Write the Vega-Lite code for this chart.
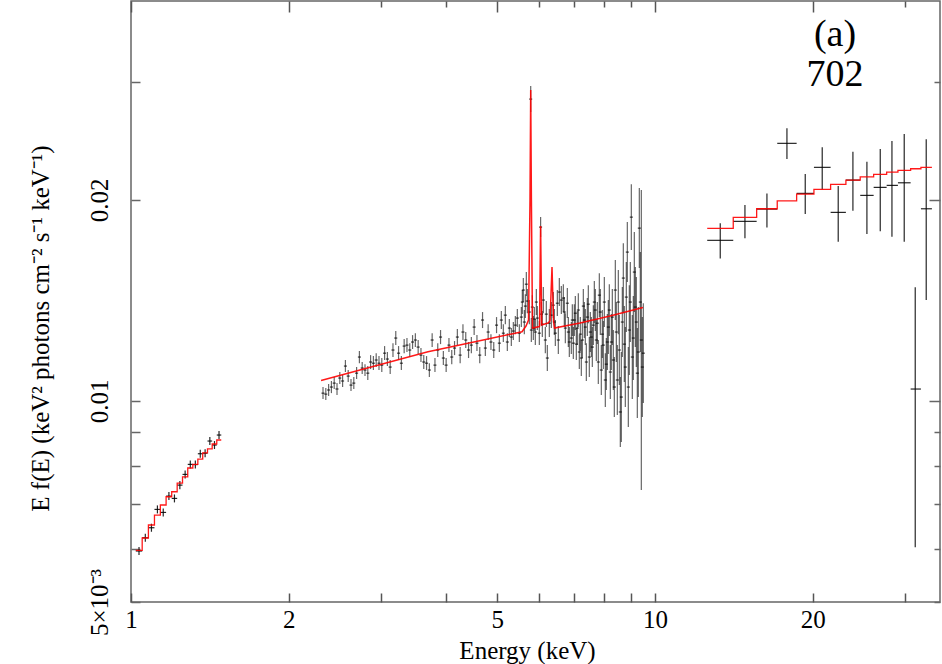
{
  "$schema": "https://vega.github.io/schema/vega-lite/v6.json",
  "width": 809,
  "height": 601,
  "autosize": {"type": "none"},
  "padding": {"left": 131, "top": 1, "right": 2, "bottom": 62},
  "config": {"view": {"stroke": "#666", "strokeWidth": 1.5}, "font": "Liberation Serif"},
  "datasets": {
    "bins": [
      {"e": 1.0358, "el": 1.0213, "eh": 1.0504, "f": 0.005961, "lo": 0.005879, "hi": 0.006044},
      {"e": 1.0649, "el": 1.0504, "eh": 1.0795, "f": 0.00624, "lo": 0.006155, "hi": 0.006327},
      {"e": 1.094, "el": 1.0795, "eh": 1.1086, "f": 0.006459, "lo": 0.00637, "hi": 0.006549},
      {"e": 1.1231, "el": 1.1086, "eh": 1.1377, "f": 0.00688, "lo": 0.006786, "hi": 0.006976},
      {"e": 1.1522, "el": 1.1377, "eh": 1.1668, "f": 0.006809, "lo": 0.006716, "hi": 0.006904},
      {"e": 1.1813, "el": 1.1668, "eh": 1.1959, "f": 0.007203, "lo": 0.007104, "hi": 0.007303},
      {"e": 1.2104, "el": 1.1959, "eh": 1.225, "f": 0.007146, "lo": 0.007048, "hi": 0.007245},
      {"e": 1.2395, "el": 1.225, "eh": 1.2541, "f": 0.007481, "lo": 0.007378, "hi": 0.007585},
      {"e": 1.2686, "el": 1.2541, "eh": 1.2832, "f": 0.007762, "lo": 0.007656, "hi": 0.00787},
      {"e": 1.2977, "el": 1.2832, "eh": 1.3123, "f": 0.008035, "lo": 0.007925, "hi": 0.008147},
      {"e": 1.3268, "el": 1.3123, "eh": 1.3414, "f": 0.00803, "lo": 0.00792, "hi": 0.008142},
      {"e": 1.3559, "el": 1.3414, "eh": 1.3705, "f": 0.008336, "lo": 0.008222, "hi": 0.008452},
      {"e": 1.385, "el": 1.3705, "eh": 1.3996, "f": 0.00835, "lo": 0.008236, "hi": 0.008466},
      {"e": 1.4141, "el": 1.3996, "eh": 1.4287, "f": 0.008709, "lo": 0.00859, "hi": 0.00883},
      {"e": 1.4432, "el": 1.4287, "eh": 1.4578, "f": 0.00859, "lo": 0.008472, "hi": 0.008709},
      {"e": 1.4723, "el": 1.4578, "eh": 1.4869, "f": 0.008891, "lo": 0.008769, "hi": 0.009015},
      {"e": 13.324, "el": 12.583, "eh": 14.108, "f": 0.017396, "lo": 0.016347, "hi": 0.018444},
      {"e": 14.852, "el": 14.108, "eh": 15.636, "f": 0.018572, "lo": 0.017516, "hi": 0.019645},
      {"e": 16.359, "el": 15.636, "eh": 17.117, "f": 0.019375, "lo": 0.018191, "hi": 0.020453},
      {"e": 17.862, "el": 17.117, "eh": 18.64, "f": 0.024303, "lo": 0.023023, "hi": 0.025591},
      {"e": 19.358, "el": 18.64, "eh": 20.112, "f": 0.020453, "lo": 0.019045, "hi": 0.021863},
      {"e": 20.858, "el": 20.112, "eh": 21.642, "f": 0.022373, "lo": 0.020737, "hi": 0.02397},
      {"e": 22.377, "el": 21.642, "eh": 23.146, "f": 0.019156, "lo": 0.017312, "hi": 0.020975},
      {"e": 23.87, "el": 23.146, "eh": 24.649, "f": 0.021413, "lo": 0.019262, "hi": 0.02361},
      {"e": 25.385, "el": 24.649, "eh": 26.147, "f": 0.020312, "lo": 0.017778, "hi": 0.02281},
      {"e": 26.917, "el": 26.147, "eh": 27.685, "f": 0.020881, "lo": 0.017944, "hi": 0.02383},
      {"e": 28.337, "el": 27.685, "eh": 29.093, "f": 0.021025, "lo": 0.017613, "hi": 0.024496},
      {"e": 29.908, "el": 29.093, "eh": 30.762, "f": 0.021214, "lo": 0.017312, "hi": 0.025094},
      {"e": 31.39, "el": 30.762, "eh": 32.185, "f": 0.010419, "lo": 0.006037, "hi": 0.014795},
      {"e": 32.943, "el": 32.185, "eh": 33.778, "f": 0.019396, "lo": 0.014158, "hi": 0.02464}
    ],
    "mid": [
      {"e": 2.3253, "f": 0.010273, "lo": 0.010066, "hi": 0.010491},
      {"e": 2.3541, "f": 0.010238, "lo": 0.010032, "hi": 0.010455},
      {"e": 2.3832, "f": 0.010384, "lo": 0.010169, "hi": 0.010598},
      {"e": 2.4127, "f": 0.010491, "lo": 0.010273, "hi": 0.010711},
      {"e": 2.4426, "f": 0.010634, "lo": 0.01042, "hi": 0.010858},
      {"e": 2.4728, "f": 0.01042, "lo": 0.010204, "hi": 0.010634},
      {"e": 2.5034, "f": 0.010821, "lo": 0.010598, "hi": 0.011048},
      {"e": 2.5344, "f": 0.010711, "lo": 0.010491, "hi": 0.010932},
      {"e": 2.5658, "f": 0.011277, "lo": 0.011048, "hi": 0.011515},
      {"e": 2.5975, "f": 0.010895, "lo": 0.010674, "hi": 0.011124},
      {"e": 2.6297, "f": 0.010562, "lo": 0.010349, "hi": 0.010785},
      {"e": 2.6622, "f": 0.010634, "lo": 0.01042, "hi": 0.010858},
      {"e": 2.6952, "f": 0.011006, "lo": 0.010785, "hi": 0.011239},
      {"e": 2.7285, "f": 0.011634, "lo": 0.011391, "hi": 0.011878},
      {"e": 2.7623, "f": 0.011201, "lo": 0.010969, "hi": 0.011436},
      {"e": 2.7965, "f": 0.011124, "lo": 0.010895, "hi": 0.011353},
      {"e": 2.8311, "f": 0.011006, "lo": 0.010748, "hi": 0.011277},
      {"e": 2.8661, "f": 0.011436, "lo": 0.011162, "hi": 0.011712},
      {"e": 2.9016, "f": 0.011391, "lo": 0.011124, "hi": 0.011673},
      {"e": 2.9375, "f": 0.011515, "lo": 0.011239, "hi": 0.011791},
      {"e": 2.9739, "f": 0.011391, "lo": 0.011124, "hi": 0.011673},
      {"e": 3.0107, "f": 0.011315, "lo": 0.011048, "hi": 0.011594},
      {"e": 3.0479, "f": 0.011791, "lo": 0.011515, "hi": 0.012082},
      {"e": 3.0857, "f": 0.011554, "lo": 0.011277, "hi": 0.011837},
      {"e": 3.1239, "f": 0.011239, "lo": 0.010969, "hi": 0.011515},
      {"e": 3.1623, "f": 0.011919, "lo": 0.011634, "hi": 0.012205},
      {"e": 3.2014, "f": 0.012421, "lo": 0.012123, "hi": 0.012725},
      {"e": 3.241, "f": 0.011791, "lo": 0.011515, "hi": 0.012082},
      {"e": 3.2811, "f": 0.011391, "lo": 0.011124, "hi": 0.011673},
      {"e": 3.3217, "f": 0.012082, "lo": 0.011791, "hi": 0.012379},
      {"e": 3.3628, "f": 0.012123, "lo": 0.011837, "hi": 0.012421},
      {"e": 3.4045, "f": 0.011919, "lo": 0.011634, "hi": 0.012205},
      {"e": 3.4466, "f": 0.012252, "lo": 0.01196, "hi": 0.012548},
      {"e": 3.4893, "f": 0.012337, "lo": 0.012041, "hi": 0.012633},
      {"e": 3.5325, "f": 0.012041, "lo": 0.011752, "hi": 0.012337},
      {"e": 3.5762, "f": 0.011712, "lo": 0.011436, "hi": 0.012},
      {"e": 3.6205, "f": 0.011436, "lo": 0.011162, "hi": 0.011712},
      {"e": 3.6653, "f": 0.011391, "lo": 0.011124, "hi": 0.011673},
      {"e": 3.7107, "f": 0.011124, "lo": 0.010858, "hi": 0.011391},
      {"e": 3.7566, "f": 0.012337, "lo": 0.012041, "hi": 0.012633},
      {"e": 3.8031, "f": 0.011315, "lo": 0.011048, "hi": 0.011594},
      {"e": 3.8502, "f": 0.011919, "lo": 0.011634, "hi": 0.012205},
      {"e": 3.8978, "f": 0.012464, "lo": 0.012164, "hi": 0.012769},
      {"e": 3.9461, "f": 0.011594, "lo": 0.011315, "hi": 0.011878},
      {"e": 3.9949, "f": 0.011315, "lo": 0.011048, "hi": 0.011594},
      {"e": 4.0444, "f": 0.012123, "lo": 0.011837, "hi": 0.012421},
      {"e": 4.0944, "f": 0.011634, "lo": 0.011353, "hi": 0.011919},
      {"e": 4.1451, "f": 0.012, "lo": 0.011712, "hi": 0.012294},
      {"e": 4.1964, "f": 0.012464, "lo": 0.012123, "hi": 0.012812},
      {"e": 4.2484, "f": 0.011712, "lo": 0.011391, "hi": 0.012041},
      {"e": 4.301, "f": 0.012681, "lo": 0.012337, "hi": 0.013031},
      {"e": 4.3542, "f": 0.012337, "lo": 0.012, "hi": 0.012681},
      {"e": 4.4081, "f": 0.011919, "lo": 0.011594, "hi": 0.012252},
      {"e": 4.4627, "f": 0.012123, "lo": 0.011791, "hi": 0.012464},
      {"e": 4.5179, "f": 0.0129, "lo": 0.012548, "hi": 0.013262},
      {"e": 4.5738, "f": 0.012205, "lo": 0.011878, "hi": 0.012548},
      {"e": 4.6304, "f": 0.011712, "lo": 0.011391, "hi": 0.012041},
      {"e": 4.6878, "f": 0.013217, "lo": 0.012856, "hi": 0.013586},
      {"e": 4.7458, "f": 0.012, "lo": 0.011673, "hi": 0.012337},
      {"e": 4.8046, "f": 0.012681, "lo": 0.012337, "hi": 0.013031},
      {"e": 4.864, "f": 0.012252, "lo": 0.011919, "hi": 0.01259},
      {"e": 4.9243, "f": 0.011919, "lo": 0.011594, "hi": 0.012252},
      {"e": 4.9853, "f": 0.012987, "lo": 0.012633, "hi": 0.013353},
      {"e": 5.047, "f": 0.012205, "lo": 0.011837, "hi": 0.01259},
      {"e": 5.0913, "f": 0.013217, "lo": 0.012812, "hi": 0.013633},
      {"e": 5.1362, "f": 0.012633, "lo": 0.012252, "hi": 0.013031},
      {"e": 5.1816, "f": 0.013443, "lo": 0.013031, "hi": 0.013868},
      {"e": 5.2273, "f": 0.012252, "lo": 0.011878, "hi": 0.012633},
      {"e": 5.2735, "f": 0.012856, "lo": 0.012464, "hi": 0.013262},
      {"e": 5.32, "f": 0.012464, "lo": 0.012082, "hi": 0.012856},
      {"e": 5.367, "f": 0.012725, "lo": 0.012337, "hi": 0.013126},
      {"e": 5.4143, "f": 0.012987, "lo": 0.01259, "hi": 0.013398},
      {"e": 5.4621, "f": 0.013307, "lo": 0.0129, "hi": 0.013727},
      {"e": 5.5104, "f": 0.012633, "lo": 0.012252, "hi": 0.013031},
      {"e": 5.559, "f": 0.013353, "lo": 0.0129, "hi": 0.013821},
      {"e": 5.5835, "f": 0.014062, "lo": 0.013489, "hi": 0.014656},
      {"e": 5.6081, "f": 0.014656, "lo": 0.014062, "hi": 0.015274},
      {"e": 5.6328, "f": 0.013126, "lo": 0.01259, "hi": 0.01368},
      {"e": 5.6576, "f": 0.013868, "lo": 0.013307, "hi": 0.01445},
      {"e": 5.6825, "f": 0.014957, "lo": 0.014353, "hi": 0.015594},
      {"e": 5.7075, "f": 0.014111, "lo": 0.013534, "hi": 0.014706},
      {"e": 5.7579, "f": 0.013586, "lo": 0.013031, "hi": 0.014159},
      {"e": 5.7927, "f": 0.02831, "lo": 0.027071, "hi": 0.029604},
      {"e": 5.8087, "f": 0.012769, "lo": 0.012252, "hi": 0.013307},
      {"e": 5.8343, "f": 0.013821, "lo": 0.013262, "hi": 0.014402},
      {"e": 5.86, "f": 0.012856, "lo": 0.012337, "hi": 0.013398},
      {"e": 5.8858, "f": 0.013262, "lo": 0.012725, "hi": 0.013821},
      {"e": 5.9117, "f": 0.012681, "lo": 0.012123, "hi": 0.013262},
      {"e": 5.9377, "f": 0.014062, "lo": 0.013443, "hi": 0.014706},
      {"e": 5.9639, "f": 0.013307, "lo": 0.012769, "hi": 0.013868},
      {"e": 6.0166, "f": 0.012633, "lo": 0.012123, "hi": 0.013171},
      {"e": 6.0504, "f": 0.018207, "lo": 0.017591, "hi": 0.018846},
      {"e": 6.0697, "f": 0.013489, "lo": 0.012944, "hi": 0.014062},
      {"e": 6.0961, "f": 0.013031, "lo": 0.012464, "hi": 0.013633},
      {"e": 6.1233, "f": 0.014159, "lo": 0.013534, "hi": 0.014806},
      {"e": 6.1773, "f": 0.012337, "lo": 0.011791, "hi": 0.0129},
      {"e": 6.2042, "f": 0.013489, "lo": 0.0129, "hi": 0.014111},
      {"e": 6.2318, "f": 0.011594, "lo": 0.011086, "hi": 0.012123},
      {"e": 6.2868, "f": 0.013075, "lo": 0.012464, "hi": 0.013727},
      {"e": 6.3423, "f": 0.013443, "lo": 0.012856, "hi": 0.014062},
      {"e": 6.3983, "f": 0.013914, "lo": 0.013307, "hi": 0.014555},
      {"e": 6.4265, "f": 0.013126, "lo": 0.012548, "hi": 0.013727},
      {"e": 6.4548, "f": 0.012633, "lo": 0.012082, "hi": 0.013217},
      {"e": 6.5118, "f": 0.014008, "lo": 0.013398, "hi": 0.014656},
      {"e": 6.5405, "f": 0.012337, "lo": 0.011752, "hi": 0.012944},
      {"e": 6.5693, "f": 0.014555, "lo": 0.013868, "hi": 0.015274},
      {"e": 6.6273, "f": 0.014159, "lo": 0.013489, "hi": 0.014857},
      {"e": 6.6858, "f": 0.014256, "lo": 0.013586, "hi": 0.014957},
      {"e": 6.7152, "f": 0.013586, "lo": 0.0129, "hi": 0.014305},
      {"e": 6.7448, "f": 0.012856, "lo": 0.012205, "hi": 0.013534},
      {"e": 6.8044, "f": 0.014008, "lo": 0.013307, "hi": 0.014756},
      {"e": 6.8343, "f": 0.012681, "lo": 0.012041, "hi": 0.013353},
      {"e": 6.8644, "f": 0.012252, "lo": 0.011634, "hi": 0.0129},
      {"e": 6.925, "f": 0.012421, "lo": 0.011752, "hi": 0.013126},
      {"e": 6.9555, "f": 0.013217, "lo": 0.012506, "hi": 0.013961},
      {"e": 6.9862, "f": 0.012205, "lo": 0.011554, "hi": 0.0129},
      {"e": 7.017, "f": 0.013217, "lo": 0.012506, "hi": 0.013961},
      {"e": 7.0478, "f": 0.013534, "lo": 0.012769, "hi": 0.014353},
      {"e": 7.0788, "f": 0.012164, "lo": 0.011515, "hi": 0.012856},
      {"e": 7.11, "f": 0.012856, "lo": 0.012123, "hi": 0.013633},
      {"e": 7.1413, "f": 0.01368, "lo": 0.0129, "hi": 0.014499},
      {"e": 7.1728, "f": 0.011837, "lo": 0.011162, "hi": 0.012548},
      {"e": 7.2044, "f": 0.01259, "lo": 0.011878, "hi": 0.013353},
      {"e": 7.2361, "f": 0.011594, "lo": 0.010895, "hi": 0.012337},
      {"e": 7.268, "f": 0.012337, "lo": 0.011594, "hi": 0.013126},
      {"e": 7.3, "f": 0.013868, "lo": 0.013075, "hi": 0.014706},
      {"e": 7.332, "f": 0.013217, "lo": 0.012421, "hi": 0.014062},
      {"e": 7.3644, "f": 0.0129, "lo": 0.012123, "hi": 0.013727},
      {"e": 7.397, "f": 0.011436, "lo": 0.010711, "hi": 0.012205},
      {"e": 7.4294, "f": 0.013353, "lo": 0.012506, "hi": 0.014256},
      {"e": 7.462, "f": 0.013961, "lo": 0.013075, "hi": 0.014907},
      {"e": 7.495, "f": 0.011634, "lo": 0.010858, "hi": 0.012464},
      {"e": 7.528, "f": 0.012681, "lo": 0.011837, "hi": 0.013586},
      {"e": 7.5612, "f": 0.012464, "lo": 0.011634, "hi": 0.013353},
      {"e": 7.5945, "f": 0.012041, "lo": 0.011239, "hi": 0.0129},
      {"e": 7.6279, "f": 0.012987, "lo": 0.012123, "hi": 0.013914},
      {"e": 7.6615, "f": 0.014062, "lo": 0.013075, "hi": 0.015118},
      {"e": 7.6953, "f": 0.01368, "lo": 0.012725, "hi": 0.014706},
      {"e": 7.729, "f": 0.012337, "lo": 0.011475, "hi": 0.013262},
      {"e": 7.7632, "f": 0.013075, "lo": 0.012164, "hi": 0.014062},
      {"e": 7.797, "f": 0.011436, "lo": 0.010598, "hi": 0.012337},
      {"e": 7.8317, "f": 0.014402, "lo": 0.013353, "hi": 0.015534},
      {"e": 7.866, "f": 0.013586, "lo": 0.012548, "hi": 0.014706},
      {"e": 7.9008, "f": 0.011124, "lo": 0.010204, "hi": 0.012123},
      {"e": 7.9356, "f": 0.01259, "lo": 0.011594, "hi": 0.01368},
      {"e": 7.9706, "f": 0.012123, "lo": 0.011162, "hi": 0.013171},
      {"e": 8.0057, "f": 0.014062, "lo": 0.0129, "hi": 0.015326},
      {"e": 8.0409, "f": 0.010748, "lo": 0.009792, "hi": 0.011791},
      {"e": 8.0763, "f": 0.011353, "lo": 0.010384, "hi": 0.012421},
      {"e": 8.1119, "f": 0.012252, "lo": 0.011124, "hi": 0.013489},
      {"e": 8.1476, "f": 0.0129, "lo": 0.011752, "hi": 0.014159},
      {"e": 8.1835, "f": 0.01368, "lo": 0.012506, "hi": 0.014957},
      {"e": 8.2196, "f": 0.011048, "lo": 0.010066, "hi": 0.012123},
      {"e": 8.2558, "f": 0.012252, "lo": 0.011124, "hi": 0.013489},
      {"e": 8.2921, "f": 0.013353, "lo": 0.012123, "hi": 0.014706},
      {"e": 8.3286, "f": 0.011515, "lo": 0.010384, "hi": 0.012769},
      {"e": 8.3653, "f": 0.010491, "lo": 0.009461, "hi": 0.011634},
      {"e": 8.4022, "f": 0.014656, "lo": 0.013217, "hi": 0.016253},
      {"e": 8.4392, "f": 0.012681, "lo": 0.011436, "hi": 0.014062},
      {"e": 8.4763, "f": 0.010748, "lo": 0.009525, "hi": 0.012123},
      {"e": 8.5137, "f": 0.014062, "lo": 0.01259, "hi": 0.015702},
      {"e": 8.5511, "f": 0.011919, "lo": 0.010562, "hi": 0.013443},
      {"e": 8.5888, "f": 0.009626, "lo": 0.008531, "hi": 0.010858},
      {"e": 8.6266, "f": 0.010135, "lo": 0.00868, "hi": 0.011837},
      {"e": 8.6647, "f": 0.013126, "lo": 0.011634, "hi": 0.014806},
      {"e": 8.7028, "f": 0.015274, "lo": 0.013534, "hi": 0.017225},
      {"e": 8.7411, "f": 0.012164, "lo": 0.010674, "hi": 0.013868},
      {"e": 8.7796, "f": 0.011239, "lo": 0.009792, "hi": 0.0129},
      {"e": 8.8183, "f": 0.014305, "lo": 0.012681, "hi": 0.016141},
      {"e": 8.8571, "f": 0.016706, "lo": 0.015066, "hi": 0.018526},
      {"e": 8.8961, "f": 0.010491, "lo": 0.00914, "hi": 0.012041},
      {"e": 8.9353, "f": 0.012769, "lo": 0.010932, "hi": 0.014907},
      {"e": 8.9746, "f": 0.014062, "lo": 0.012252, "hi": 0.016141},
      {"e": 9.0141, "f": 0.018846, "lo": 0.016821, "hi": 0.02111},
      {"e": 9.0538, "f": 0.011634, "lo": 0.010066, "hi": 0.013443},
      {"e": 9.0937, "f": 0.012421, "lo": 0.010748, "hi": 0.014353},
      {"e": 9.1337, "f": 0.015594, "lo": 0.013586, "hi": 0.017898},
      {"e": 9.174, "f": 0.013821, "lo": 0.012041, "hi": 0.015863},
      {"e": 9.2144, "f": 0.013126, "lo": 0.011239, "hi": 0.015326},
      {"e": 9.255, "f": 0.011006, "lo": 0.009428, "hi": 0.012856},
      {"e": 9.2958, "f": 0.011837, "lo": 0.010135, "hi": 0.013821},
      {"e": 9.3367, "f": 0.018145, "lo": 0.015809, "hi": 0.020827},
      {"e": 9.3778, "f": 0.014062, "lo": 0.011837, "hi": 0.016706},
      {"e": 9.4191, "f": 0.012337, "lo": 0.007355, "hi": 0.020685},
      {"e": 9.4606, "f": 0.011239, "lo": 0.009461, "hi": 0.013353},
      {"e": 9.5022, "f": 0.011791, "lo": 0.009925, "hi": 0.014008}
    ],
    "stepm": [
      {"g": "low", "e": 1.0213, "m": 0.005976},
      {"g": "low", "e": 1.0504, "m": 0.006234},
      {"g": "low", "e": 1.0795, "m": 0.00652},
      {"g": "low", "e": 1.1086, "m": 0.006748},
      {"g": "low", "e": 1.1377, "m": 0.006985},
      {"g": "low", "e": 1.1668, "m": 0.007187},
      {"g": "low", "e": 1.1959, "m": 0.007312},
      {"g": "low", "e": 1.225, "m": 0.007534},
      {"g": "low", "e": 1.2541, "m": 0.007698},
      {"g": "low", "e": 1.2832, "m": 0.007936},
      {"g": "low", "e": 1.3123, "m": 0.008035},
      {"g": "low", "e": 1.3414, "m": 0.008184},
      {"g": "low", "e": 1.3705, "m": 0.008358},
      {"g": "low", "e": 1.3996, "m": 0.008474},
      {"g": "low", "e": 1.4287, "m": 0.00862},
      {"g": "low", "e": 1.4578, "m": 0.00874},
      {"g": "low", "e": 1.4869, "m": 0.00874},
      {"g": "high", "e": 12.583, "m": 0.018129},
      {"g": "high", "e": 14.108, "m": 0.01883},
      {"g": "high", "e": 15.636, "m": 0.019396},
      {"g": "high", "e": 17.117, "m": 0.019938},
      {"g": "high", "e": 18.64, "m": 0.020404},
      {"g": "high", "e": 20.112, "m": 0.020737},
      {"g": "high", "e": 21.642, "m": 0.021098},
      {"g": "high", "e": 23.146, "m": 0.021413},
      {"g": "high", "e": 24.649, "m": 0.021658},
      {"g": "high", "e": 26.147, "m": 0.02184},
      {"g": "high", "e": 27.685, "m": 0.022014},
      {"g": "high", "e": 29.093, "m": 0.022143},
      {"g": "high", "e": 30.762, "m": 0.022266},
      {"g": "high", "e": 32.185, "m": 0.022373},
      {"g": "high", "e": 33.778, "m": 0.022373}
    ],
    "midm": [
      {"e": 2.3053, "m": 0.010729},
      {"e": 2.7353, "m": 0.011128},
      {"e": 3.6877, "m": 0.011849},
      {"e": 4.5349, "m": 0.012265},
      {"e": 5.5754, "m": 0.012694},
      {"e": 5.6743, "m": 0.012946},
      {"e": 5.737, "m": 0.013217},
      {"e": 5.7749, "m": 0.019986},
      {"e": 5.7927, "m": 0.029205},
      {"e": 5.8105, "m": 0.019986},
      {"e": 5.8387, "m": 0.012857},
      {"e": 6.0212, "m": 0.012924},
      {"e": 6.0504, "m": 0.018273},
      {"e": 6.0797, "m": 0.012991},
      {"e": 6.2504, "m": 0.01308},
      {"e": 6.3055, "m": 0.013171},
      {"e": 6.3612, "m": 0.015864},
      {"e": 6.4032, "m": 0.013171},
      {"e": 6.4314, "m": 0.012857},
      {"e": 7.193, "m": 0.01308},
      {"e": 8.2079, "m": 0.0134},
      {"e": 9.4869, "m": 0.013799}
    ],
    "ann": [
      {"e": 22.06, "f": 0.033995, "t": "(a)"},
      {"e": 22.06, "f": 0.029608, "t": "702"}
    ]
  },
  "layer": [
    {
      "data": {"name": "mid"},
      "mark": {"type": "rule", "color": "#000", "opacity": 0.6, "strokeWidth": 1.2},
      "encoding": {
        "x": {
          "field": "e", "type": "quantitative",
          "scale": {"type": "log", "domain": [1, 35], "nice": false},
          "axis": {
            "orient": "bottom",
            "values": [1, 2, 3, 4, 5, 6, 7, 8, 9, 10, 20, 30],
            "domain": false, "grid": false, "ticks": true,
            "tickColor": "#555", "tickWidth": 1.5, "tickSize": -9,
            "labelExpr": "indexof([1,2,5,10,20], datum.value) >= 0 ? format(datum.value, 'd') : ''",
            "labelFont": "Liberation Serif", "labelFontSize": 25, "labelColor": "#000",
            "labelPadding": 14, "labelFlush": false, "labelOverlap": false, "labelBaseline": "top",
            "title": "Energy (keV)", "titleFont": "Liberation Serif", "titleFontSize": 25,
            "titleFontWeight": "normal", "titleColor": "#000",
            "titleX": 396, "titleY": 56, "titleBaseline": "alphabetic"
          }
        },
        "y": {
          "field": "lo", "type": "quantitative",
          "scale": {"type": "log", "domain": [0.005, 0.0397], "nice": false},
          "axis": {
            "orient": "left",
            "values": [0.005, 0.006, 0.007, 0.008, 0.009, 0.01, 0.02, 0.03],
            "domain": false, "grid": false, "ticks": true,
            "tickColor": "#666", "tickWidth": 1.5, "tickSize": -9,
            "labelExpr": "datum.value == 0.005 ? '5×10⁻³' : datum.value == 0.01 ? '0.01' : datum.value == 0.02 ? '0.02' : ''",
            "labelAngle": 270, "labelAlign": "center", "labelBaseline": "alphabetic",
            "labelFont": "Liberation Serif", "labelFontSize": 25, "labelColor": "#000",
            "labelPadding": 33, "labelFlush": false, "labelOverlap": false,
            "title": "E f(E) (keV² photons cm⁻² s⁻¹ keV⁻¹)", "titleFont": "Liberation Serif", "titleFontSize": 25,
            "titleFontWeight": "normal", "titleColor": "#000",
            "titleX": -91, "titleY": 327, "titleAngle": 270, "titleAlign": "center", "titleBaseline": "middle"
          }
        },
        "y2": {"field": "hi"}
      }
    },
    {
      "data": {"name": "mid"},
      "mark": {"type": "point", "shape": "stroke", "size": 9, "color": "#000", "strokeWidth": 1, "opacity": 0.9},
      "encoding": {
        "x": {
          "field": "e", "type": "quantitative",
          "axis": {
            "orient": "top",
            "values": [1, 2, 3, 4, 5, 6, 7, 8, 9, 10, 20, 30],
            "domain": false, "grid": false, "labels": false, "title": null, "ticks": true,
            "tickColor": "#555", "tickWidth": 1.5,
            "tickSize": {"condition": {"test": "indexof([1,2,5,10,20], datum.value) >= 0", "value": -11}, "value": -6}
          }
        },
        "y": {
          "field": "f", "type": "quantitative",
          "axis": {
            "orient": "right",
            "values": [0.005, 0.006, 0.007, 0.008, 0.009, 0.01, 0.02, 0.03],
            "domain": false, "grid": false, "labels": false, "title": null, "ticks": true,
            "tickColor": "#666", "tickWidth": 1.5,
            "tickSize": {"condition": {"test": "datum.value == 0.01 || datum.value == 0.02", "value": -11}, "value": -6}
          }
        }
      }
    },
    {
      "data": {"name": "bins"},
      "mark": {"type": "rule", "color": "#000", "opacity": 0.85, "strokeWidth": 1.2},
      "encoding": {
        "x": {"field": "el", "type": "quantitative", "axis": null},
        "x2": {"field": "eh"},
        "y": {"field": "f", "type": "quantitative", "axis": null}
      }
    },
    {
      "data": {"name": "bins"},
      "mark": {"type": "rule", "color": "#000", "opacity": 0.85, "strokeWidth": 1.2},
      "encoding": {
        "x": {"field": "e", "type": "quantitative", "axis": null},
        "y": {"field": "lo", "type": "quantitative", "axis": null},
        "y2": {"field": "hi"}
      }
    },
    {
      "data": {"name": "stepm"},
      "mark": {"type": "line", "color": "#ff0000", "strokeWidth": 1.3, "interpolate": "step-after", "opacity": 0.9},
      "encoding": {
        "x": {"field": "e", "type": "quantitative", "axis": null},
        "y": {"field": "m", "type": "quantitative", "axis": null},
        "detail": {"field": "g"}
      }
    },
    {
      "data": {"name": "midm"},
      "mark": {"type": "line", "color": "#ff0000", "strokeWidth": 1.5, "opacity": 0.9},
      "encoding": {
        "x": {"field": "e", "type": "quantitative", "axis": null},
        "y": {"field": "m", "type": "quantitative", "axis": null}
      }
    },
    {
      "data": {"name": "ann"},
      "mark": {"type": "text", "font": "Liberation Serif", "fontSize": 38, "color": "#000", "align": "center", "baseline": "alphabetic"},
      "encoding": {
        "x": {"field": "e", "type": "quantitative", "axis": null},
        "y": {"field": "f", "type": "quantitative", "axis": null},
        "text": {"field": "t"}
      }
    }
  ],
  "resolve": {"axis": {"x": "independent", "y": "independent"}}
}
